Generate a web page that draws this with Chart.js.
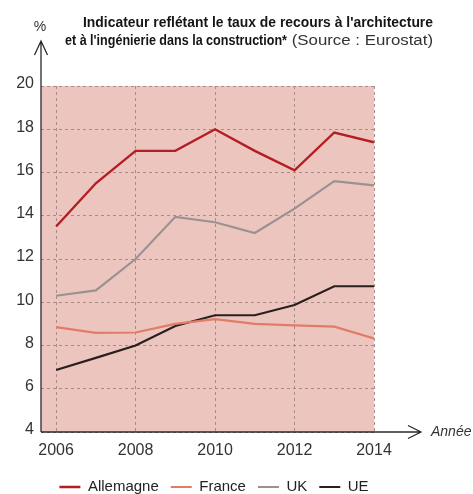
<!DOCTYPE html>
<html>
<head>
<meta charset="utf-8">
<script src="https://cdn.jsdelivr.net/npm/chart.js@4.4.1/dist/chart.umd.min.js"></script>
<style>
html,body{margin:0;padding:0;background:#fff;}
#wrap{width:473px;height:494px;position:relative;}
</style>
</head>
<body>
<div id="wrap"><canvas id="c" width="473" height="494"></canvas></div>
<script>
// ---- data ----
const years = [2006, 2007, 2008, 2009, 2010, 2011, 2012, 2013, 2014];
const allemagne = [13.5, 15.5, 17.0, 17.0, 18.0, 17.0, 16.1, 17.85, 17.4];
const france = [8.85, 8.58, 8.6, 9.0, 9.22, 9.0, 8.93, 8.87, 8.33];
const uk = [10.3, 10.55, 12.0, 13.95, 13.7, 13.2, 14.33, 15.6, 15.4];
const ue = [6.87, 7.43, 8.0, 8.9, 9.4, 9.4, 9.87, 10.74, 10.74];
const seriesNames = ['Allemagne', 'France', 'UK', 'UE'];
const xTickYears = [2006, 2008, 2010, 2012, 2014];
const yTickValues = [4, 6, 8, 10, 12, 14, 16, 18, 20];
const titleLine1 = "Indicateur reflétant le taux de recours à l'architecture";
const titleLine2Bold = "et à l'ingénierie dans la construction*";
const titleLine2Normal = " (Source : Eurostat)";
const yUnit = '%';
const xUnit = 'Année';

const colors = ['#b31e24', '#e07c68', '#9a9292', '#2a1f1f'];
const seriesData = [allemagne, france, uk, ue];

const datasets = seriesNames.map((name, i) => ({
  label: name,
  data: years.map((y, j) => ({x: y, y: seriesData[i][j]})),
  borderColor: colors[i],
  backgroundColor: colors[i],
  borderWidth: i === 0 ? 2.4 : 2.2,
  pointRadius: 0,
  tension: 0,
  fill: false
}));

function drawFitted(ctx, text, rightX, y, font, targetW) {
  ctx.save();
  ctx.font = font;
  const w = ctx.measureText(text).width;
  const sx = targetW / w;
  ctx.translate(rightX, y);
  ctx.scale(sx, 1);
  ctx.textAlign = 'right';
  ctx.textBaseline = 'middle';
  ctx.fillText(text, 0, 0);
  ctx.restore();
}

const decor = {
  id: 'decor',
  beforeDraw(chart) {
    const {ctx, chartArea: a} = chart;
    ctx.save();
    ctx.fillStyle = '#ecc6be';
    ctx.fillRect(a.left, a.top, a.right - a.left, a.bottom - a.top);
    ctx.restore();
  },
  afterDraw(chart) {
    const {ctx, chartArea: a} = chart;
    ctx.save();
    ctx.strokeStyle = '#2a2a2a';
    ctx.lineWidth = 1.3;
    // y axis line with arrow
    ctx.beginPath();
    ctx.moveTo(a.left, a.bottom);
    ctx.lineTo(a.left, 41);
    ctx.moveTo(a.left - 6.5, 55);
    ctx.lineTo(a.left, 41);
    ctx.lineTo(a.left + 6.5, 55);
    // x axis line with arrow
    ctx.moveTo(a.left, a.bottom);
    ctx.lineTo(421, a.bottom);
    ctx.moveTo(408, a.bottom - 6.5);
    ctx.lineTo(421, a.bottom);
    ctx.lineTo(408, a.bottom + 6.5);
    ctx.stroke();
    // unit labels
    ctx.fillStyle = '#333';
    ctx.textBaseline = 'middle';
    ctx.textAlign = 'center';
    ctx.font = '14px "Liberation Sans", Arial, sans-serif';
    ctx.fillText(yUnit, a.left - 1, 27);
    ctx.textAlign = 'left';
    ctx.font = 'italic 14px "Liberation Sans", Arial, sans-serif';
    ctx.fillText(xUnit, 431, a.bottom);
    // title
    const right = 433;
    const boldFont = 'bold 15px "Liberation Sans", Arial, sans-serif';
    const normFont = '14px "Liberation Sans", Arial, sans-serif';
    ctx.fillStyle = '#151515';
    drawFitted(ctx, titleLine1, right, 23, boldFont, 350);
    ctx.fillStyle = '#333';
    drawFitted(ctx, titleLine2Normal, right, 41, normFont, 146);
    ctx.fillStyle = '#151515';
    drawFitted(ctx, titleLine2Bold, right - 146, 41, boldFont, 222);
    ctx.restore();
  }
};

const dash = [3, 3];
new Chart(document.getElementById('c'), {
  type: 'line',
  data: {datasets},
  plugins: [decor],
  options: {
    responsive: false,
    animation: false,
    events: [],
    layout: {padding: {left: 0, right: 45, top: 86, bottom: 0}},
    font: {family: '"Liberation Sans", Arial, sans-serif'},
    scales: {
      x: {
        type: 'linear',
        min: 2005.62,
        max: 2014,
        afterBuildTicks(scale) { scale.ticks = xTickYears.map(v => ({value: v})); },
        afterFit(scale) { scale.height = 35.5; },
        grid: {display: true, drawTicks: false, color: '#a88a86', lineWidth: 1},
        border: {display: false, dash: dash},
        ticks: {
          padding: 9,
          color: '#333',
          font: {size: 16, family: '"Liberation Sans", Arial, sans-serif'},
          callback: v => String(v),
          maxRotation: 0
        }
      },
      y: {
        type: 'linear',
        min: 4,
        max: 20,
        afterBuildTicks(scale) { scale.ticks = yTickValues.map(v => ({value: v})); },
        afterFit(scale) { scale.width = 41; },
        grid: {display: true, drawTicks: false, color: '#a88a86', lineWidth: 1},
        border: {display: false, dash: dash},
        ticks: {
          padding: 7,
          color: '#333',
          labelOffset: -2,
          font: {size: 16, family: '"Liberation Sans", Arial, sans-serif'}
        }
      },
      y2: {
        type: 'linear',
        position: 'right',
        min: 4,
        max: 20,
        afterFit(scale) { scale.width = 54; },
        grid: {display: false},
        border: {display: false},
        ticks: {display: false}
      }
    },
    plugins: {
      title: {display: false},
      tooltip: {enabled: false},
      legend: {
        display: true,
        position: 'bottom',
        maxHeight: 26.5,
        labels: {
          usePointStyle: true,
          pointStyle: 'line',
          pointStyleWidth: 21,
          padding: 12,
          color: '#222',
          font: {size: 15, family: '"Liberation Sans", Arial, sans-serif'}
        }
      }
    }
  }
});
</script>
</body>
</html>
